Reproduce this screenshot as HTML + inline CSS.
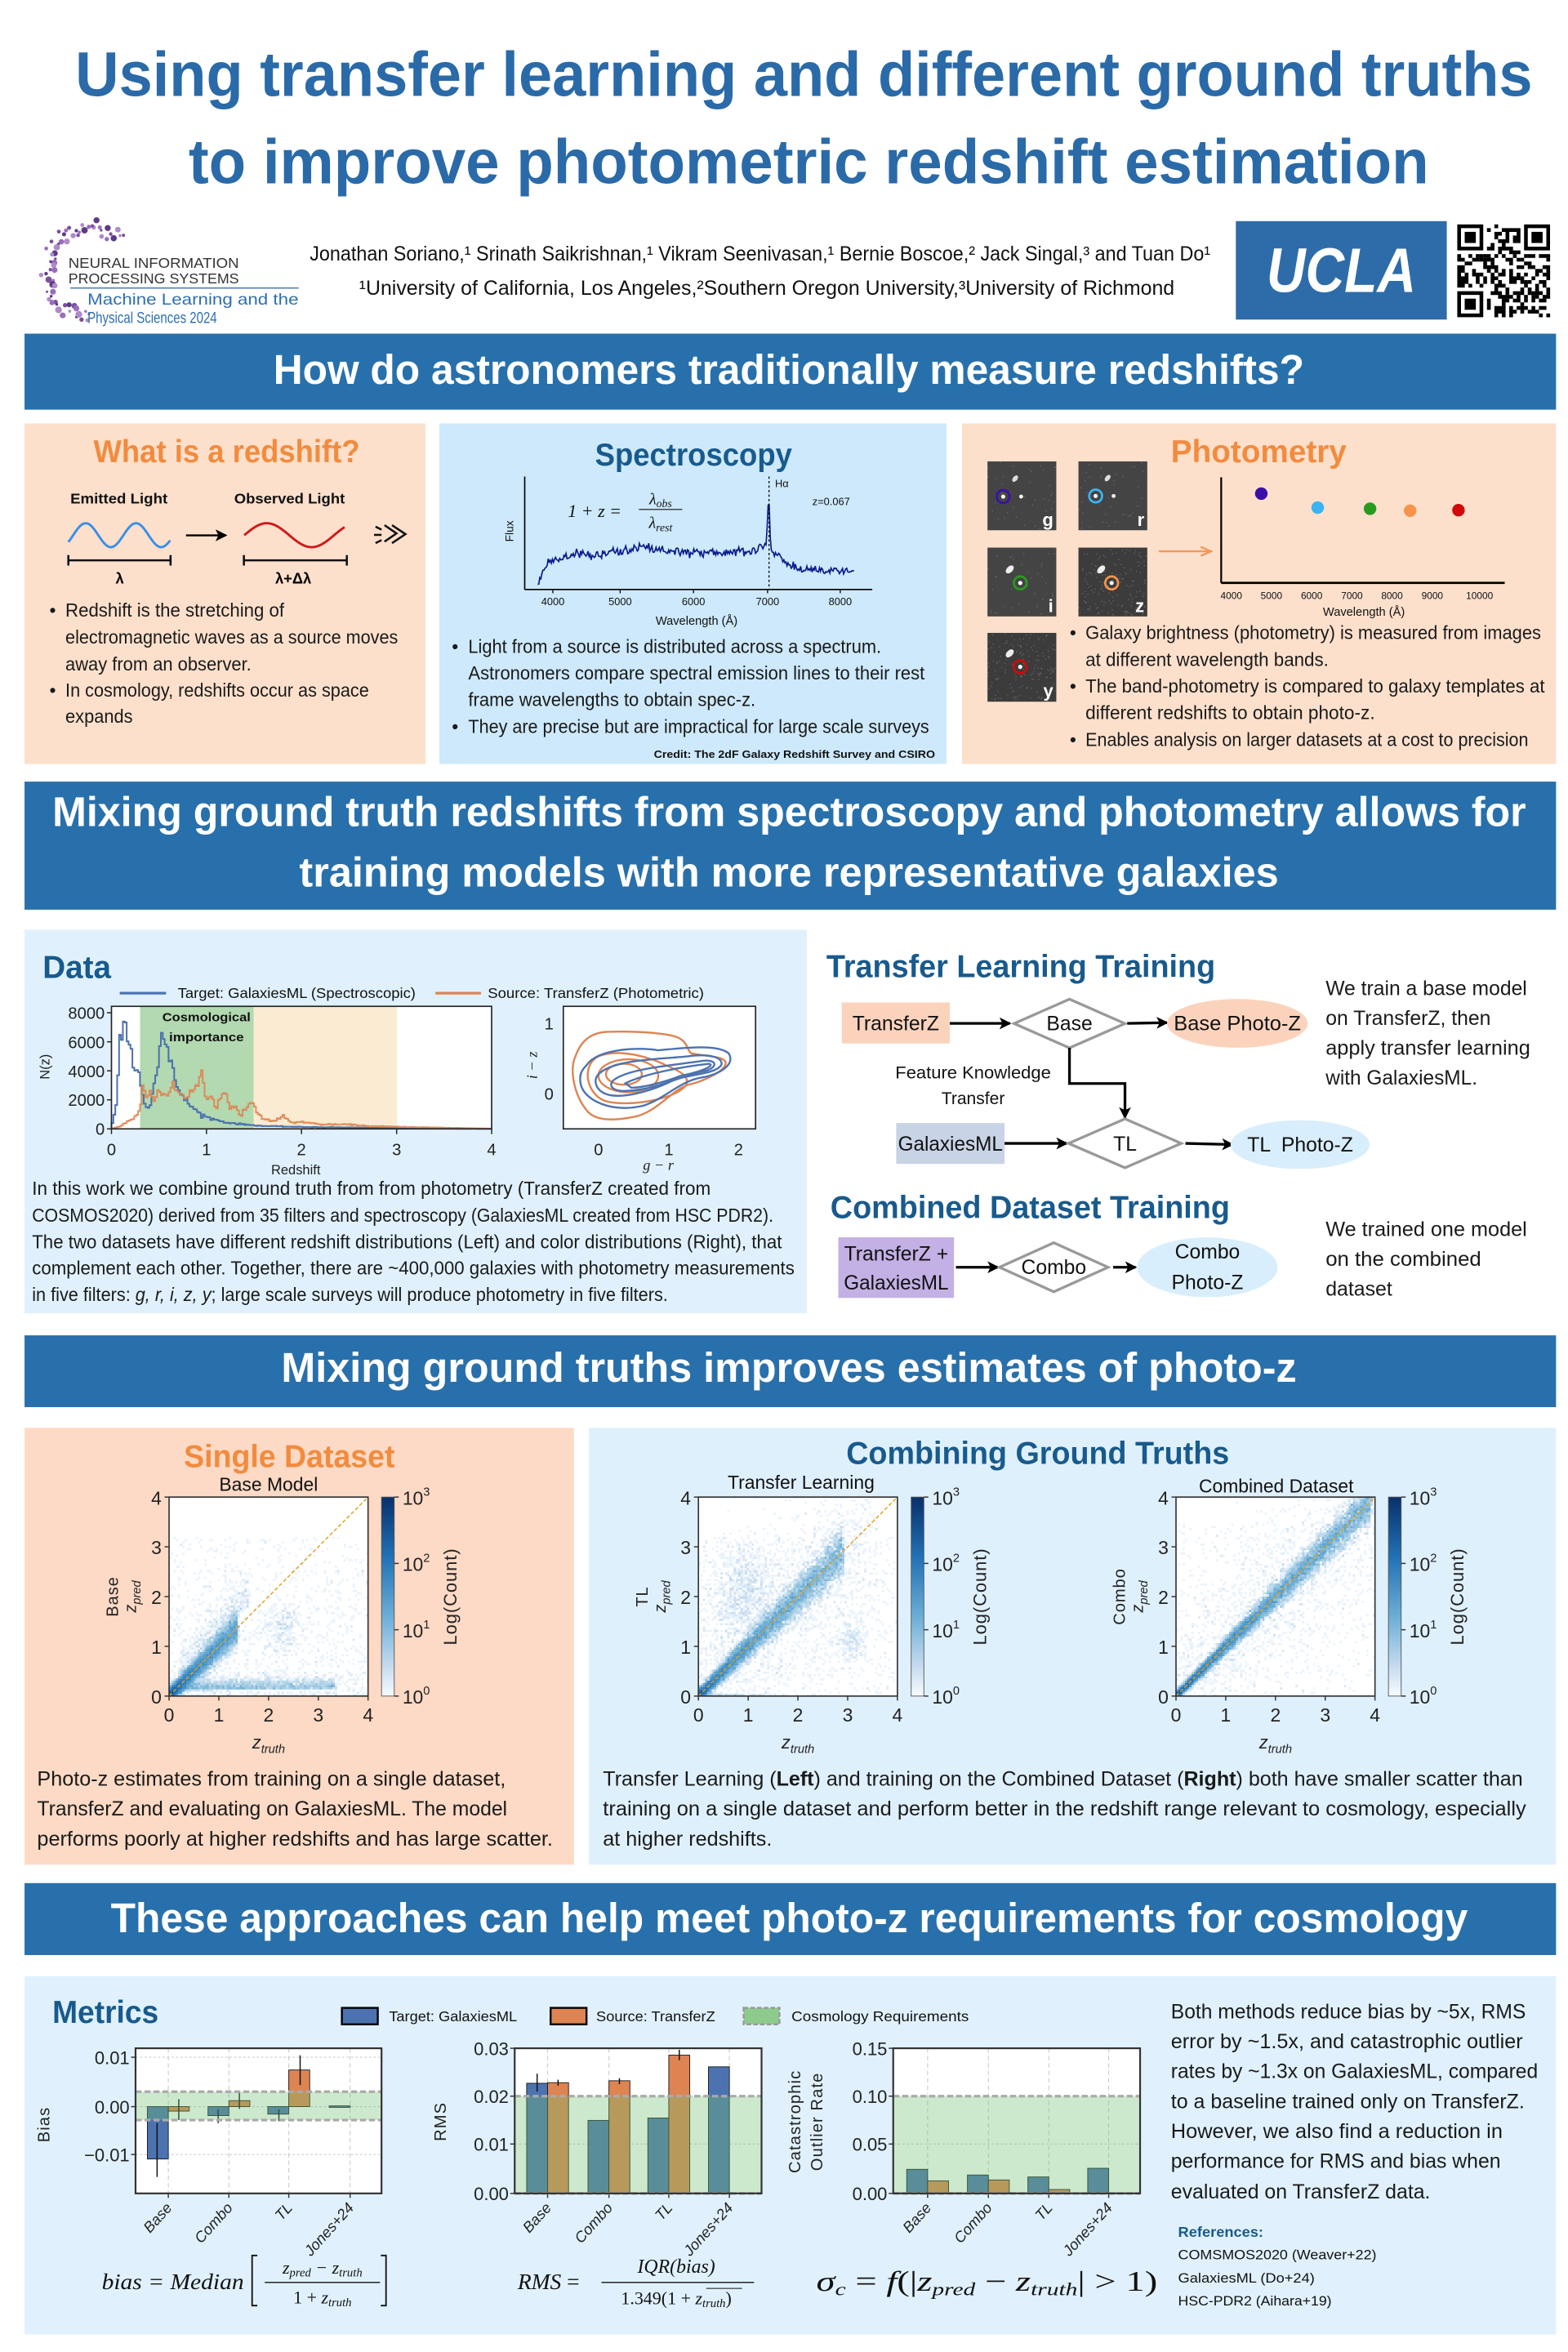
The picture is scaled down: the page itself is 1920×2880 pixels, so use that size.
<!DOCTYPE html>
<html><head><meta charset="utf-8">
<style>
html,body{margin:0;padding:0;background:#fff}
svg{display:block}
text{font-family:"Liberation Sans",sans-serif}
.b{font-weight:bold}
.ser{font-family:"Liberation Serif",serif;font-style:italic}
</style></head>
<body>
<svg id="s" xmlns="http://www.w3.org/2000/svg" width="1920" height="2880" viewBox="0 0 1048 1572">
<defs>
<marker id="ah" markerWidth="8" markerHeight="8" refX="7" refY="4" orient="auto" markerUnits="userSpaceOnUse"><path d="M0,0 L8,4 L0,8 L2,4 Z" fill="#000"/></marker>
<marker id="ao" markerWidth="8" markerHeight="8" refX="7" refY="4" orient="auto" markerUnits="userSpaceOnUse"><path d="M0,1 L7,4 L0,7" fill="none" stroke="#f39a5a" stroke-width="1.3"/></marker>
<linearGradient id="cb" x1="0" y1="0" x2="0" y2="1"><stop offset="0" stop-color="#08306b"/><stop offset="0.3" stop-color="#2171b5"/><stop offset="0.6" stop-color="#6baed6"/><stop offset="0.85" stop-color="#c6dbef"/><stop offset="1" stop-color="#f7fbff"/></linearGradient>
</defs>
<rect width="1048" height="1572" fill="#fff"/>

<text x="50.3" y="64" font-size="42" class="b" fill="#2a6aa8" textLength="974" lengthAdjust="spacingAndGlyphs">Using transfer learning and different ground truths</text>
<text x="126" y="122.6" font-size="42" class="b" fill="#2a6aa8" textLength="829" lengthAdjust="spacingAndGlyphs">to improve photometric redshift estimation</text>

<g id="neurips"></g>
<text x="45.7" y="179" font-size="9.5" fill="#333" textLength="114" lengthAdjust="spacingAndGlyphs">NEURAL INFORMATION</text>
<text x="45.7" y="189.5" font-size="9.5" fill="#333" textLength="114" lengthAdjust="spacingAndGlyphs">PROCESSING SYSTEMS</text>
<line x1="47" y1="192.5" x2="199.6" y2="192.5" stroke="#3b6fb0" stroke-width="0.8"/>
<text x="58.5" y="203.6" font-size="10.5" fill="#2d6fb3" textLength="141" lengthAdjust="spacingAndGlyphs">Machine Learning and the</text>
<text x="58.5" y="216" font-size="10.5" fill="#2d6fb3" textLength="86.5" lengthAdjust="spacingAndGlyphs">Physical Sciences 2024</text>
<text x="207" y="174" font-size="13.5" fill="#111" textLength="602" lengthAdjust="spacingAndGlyphs">Jonathan Soriano,¹ Srinath Saikrishnan,¹ Vikram Seenivasan,¹ Bernie Boscoe,² Jack Singal,³ and Tuan Do¹</text>
<text x="240" y="197" font-size="13.5" fill="#111" textLength="545" lengthAdjust="spacingAndGlyphs">¹University of California, Los Angeles,²Southern Oregon University,³University of Richmond</text>
<rect x="826" y="147.8" width="141" height="65.8" fill="#2d6ca9"/>
<text x="896.5" y="195" font-size="42" class="b" font-style="italic" fill="#fff" text-anchor="middle" textLength="100" lengthAdjust="spacingAndGlyphs">UCLA</text>
<g id="qr"></g>

<rect x="16.4" y="223" width="1023.6" height="50.8" fill="#2870ab"/>
<text x="182.7" y="256.5" font-size="28" class="b" fill="#fff" textLength="689" lengthAdjust="spacingAndGlyphs">How do astronomers traditionally measure redshifts?</text>

<rect x="16.4" y="283" width="268" height="227.6" fill="#fde0cc"/>
<text x="62.5" y="309" font-size="21" class="b" fill="#f28b3e" textLength="178" lengthAdjust="spacingAndGlyphs">What is a redshift?</text>
<text x="47" y="336.5" font-size="9.5" class="b" fill="#111" textLength="65" lengthAdjust="spacingAndGlyphs">Emitted Light</text>
<text x="156.5" y="336.5" font-size="9.5" class="b" fill="#111" textLength="74" lengthAdjust="spacingAndGlyphs">Observed Light</text>
<path id="bw" fill="none" stroke="#3a8fe8" stroke-width="1.6"/>
<path id="rw" fill="none" stroke="#d0191b" stroke-width="1.6"/>
<line x1="124.3" y1="357.8" x2="151" y2="357.8" stroke="#000" stroke-width="1.3" marker-end="url(#ah)"/>
<g stroke="#111" stroke-width="1.4" fill="none">
<path d="M257,351 L265,356.5 L257,362"/><path d="M262,351 L271,357 L262,363"/>
<line x1="251" y1="352" x2="255" y2="354"/><line x1="250" y1="357.5" x2="255" y2="357.5"/><line x1="251" y1="363" x2="255" y2="361"/>
<line x1="45.7" y1="374.5" x2="114" y2="374.5"/><line x1="45.7" y1="371" x2="45.7" y2="378"/><line x1="114" y1="371" x2="114" y2="378"/>
<line x1="163" y1="374.5" x2="231.8" y2="374.5"/><line x1="163" y1="371" x2="163" y2="378"/><line x1="231.8" y1="371" x2="231.8" y2="378"/>
</g>
<text x="80" y="390" font-size="10" class="b" text-anchor="middle">λ</text>
<text x="196" y="390" font-size="10" class="b" text-anchor="middle">λ+Δλ</text>
<g font-size="12.5" fill="#1a1a1a">
<text x="33" y="412">•</text><text x="43.7" y="412" textLength="146.3" lengthAdjust="spacingAndGlyphs">Redshift is the stretching of</text>
<text x="43.7" y="430" textLength="222.3" lengthAdjust="spacingAndGlyphs">electromagnetic waves as a source moves</text>
<text x="43.7" y="448" textLength="124.3" lengthAdjust="spacingAndGlyphs">away from an observer.</text>
<text x="33" y="465.5">•</text><text x="43.7" y="465.5" textLength="202.9" lengthAdjust="spacingAndGlyphs">In cosmology, redshifts occur as space</text>
<text x="43.7" y="483" textLength="45" lengthAdjust="spacingAndGlyphs">expands</text>
</g>

<rect x="293.7" y="283" width="338.9" height="227.6" fill="#cde9fb"/>
<text x="397.7" y="311" font-size="21" class="b" fill="#185a8d" textLength="131.7" lengthAdjust="spacingAndGlyphs">Spectroscopy</text>
<line x1="350.7" y1="318.5" x2="350.7" y2="394" stroke="#000" stroke-width="0.9"/>
<line x1="350.7" y1="394" x2="583" y2="394" stroke="#000" stroke-width="0.9"/>
<g stroke="#000" stroke-width="0.7"><line x1="369.5" y1="394" x2="369.5" y2="396.5"/><line x1="414.5" y1="394" x2="414.5" y2="396.5"/><line x1="463.5" y1="394" x2="463.5" y2="396.5"/><line x1="513" y1="394" x2="513" y2="396.5"/><line x1="561.6" y1="394" x2="561.6" y2="396.5"/></g>
<path id="spec" fill="none" stroke="#0a1a8a" stroke-width="0.9"/>
<line x1="514" y1="318.5" x2="514" y2="394" stroke="#000" stroke-width="0.7" stroke-dasharray="1.5 1.5"/>
<text x="518" y="325.5" font-size="7" fill="#111">Hα</text>
<text x="543" y="337.5" font-size="7" fill="#111">z=0.067</text>
<text transform="translate(343,355) rotate(-90)" font-size="7.5" text-anchor="middle" fill="#111">Flux</text>
<text x="379.5" y="345.5" font-size="12" class="ser" font-style="normal" fill="#111">1 + <tspan font-style="italic">z</tspan> =</text>
<text x="441.5" y="337" font-size="11" class="ser" fill="#111" text-anchor="middle">λ<tspan font-size="7.5" dy="2">obs</tspan></text>
<line x1="427" y1="340.5" x2="456" y2="340.5" stroke="#111" stroke-width="0.6"/>
<text x="441.5" y="353" font-size="11" class="ser" fill="#111" text-anchor="middle">λ<tspan font-size="7.5" dy="2">rest</tspan></text>
<g font-size="7" fill="#111" text-anchor="middle"><text x="369.5" y="404.5">4000</text><text x="414.5" y="404.5">5000</text><text x="463.5" y="404.5">6000</text><text x="513" y="404.5">7000</text><text x="561.6" y="404.5">8000</text></g>
<text x="465.6" y="417.5" font-size="8" fill="#111" text-anchor="middle">Wavelength (Å)</text>
<g font-size="12.5" fill="#1a1a1a">
<text x="302" y="436.3">•</text><text x="313" y="436.3" textLength="276" lengthAdjust="spacingAndGlyphs">Light from a source is distributed across a spectrum.</text>
<text x="313" y="454" textLength="305" lengthAdjust="spacingAndGlyphs">Astronomers compare spectral emission lines to their rest</text>
<text x="313" y="472" textLength="192" lengthAdjust="spacingAndGlyphs">frame wavelengths to obtain spec-z.</text>
<text x="302" y="490">•</text><text x="313" y="490" textLength="308" lengthAdjust="spacingAndGlyphs">They are precise but are impractical for large scale surveys</text>
</g>
<text x="437" y="506.5" font-size="7.2" class="b" fill="#111" textLength="188" lengthAdjust="spacingAndGlyphs">Credit: The 2dF Galaxy Redshift Survey and CSIRO</text>

<rect x="643" y="283" width="397" height="227.6" fill="#fde0cc"/>
<text x="782.6" y="309" font-size="21" class="b" fill="#f28b3e" textLength="117.4" lengthAdjust="spacingAndGlyphs">Photometry</text>
<g id="gal"></g>
<line x1="774.6" y1="368.5" x2="809.5" y2="368.5" stroke="#f39a5a" stroke-width="1.3" marker-end="url(#ao)"/>
<line x1="816.2" y1="319" x2="816.2" y2="389.6" stroke="#000" stroke-width="1.2"/>
<line x1="816.2" y1="389.6" x2="1005.7" y2="389.6" stroke="#000" stroke-width="1.5"/>
<circle cx="843" cy="329.9" r="4.2" fill="#3a10a8"/>
<circle cx="880.7" cy="339.3" r="4.2" fill="#3ab4f5"/>
<circle cx="915.7" cy="340" r="4.2" fill="#2a9a1e"/>
<circle cx="942.5" cy="341.3" r="4.2" fill="#f7944a"/>
<circle cx="974.8" cy="341" r="4.2" fill="#d00a0a"/>
<g font-size="6.5" fill="#111" text-anchor="middle"><text x="823" y="400.5">4000</text><text x="849.8" y="400.5">5000</text><text x="876.7" y="400.5">6000</text><text x="903.6" y="400.5">7000</text><text x="930.4" y="400.5">8000</text><text x="957.3" y="400.5">9000</text><text x="988.9" y="400.5">10000</text></g>
<text x="911.6" y="411.5" font-size="8" fill="#111" text-anchor="middle">Wavelength (Å)</text>
<g font-size="12.5" fill="#1a1a1a">
<text x="715" y="427">•</text><text x="725.5" y="427" textLength="304.5" lengthAdjust="spacingAndGlyphs">Galaxy brightness (photometry) is measured from images</text>
<text x="725.5" y="445" textLength="162.5" lengthAdjust="spacingAndGlyphs">at different wavelength bands.</text>
<text x="715" y="463">•</text><text x="725.5" y="463" textLength="307" lengthAdjust="spacingAndGlyphs">The band-photometry is compared to galaxy templates at</text>
<text x="725.5" y="480.6" textLength="193.5" lengthAdjust="spacingAndGlyphs">different redshifts to obtain photo-z.</text>
<text x="715" y="498.5">•</text><text x="725.5" y="498.5" textLength="296" lengthAdjust="spacingAndGlyphs">Enables analysis on larger datasets at a cost to precision</text>
</g>

<rect x="16.4" y="522.4" width="1023.6" height="85.6" fill="#2870ab"/>
<text x="35" y="552" font-size="28" class="b" fill="#fff" textLength="985" lengthAdjust="spacingAndGlyphs">Mixing ground truth redshifts from spectroscopy and photometry allows for</text>
<text x="200" y="592.5" font-size="28" class="b" fill="#fff" textLength="654.6" lengthAdjust="spacingAndGlyphs">training models with more representative galaxies</text>

<rect x="16.4" y="621.4" width="522.9" height="256.3" fill="#e0f1fd"/>
<text x="28.5" y="653.5" font-size="21" class="b" fill="#185a8d" textLength="45.7" lengthAdjust="spacingAndGlyphs">Data</text>
<line x1="80" y1="663.8" x2="111" y2="663.8" stroke="#4c72b0" stroke-width="1.8"/>
<text x="118.8" y="667" font-size="9.5" fill="#111" textLength="159" lengthAdjust="spacingAndGlyphs">Target: GalaxiesML (Spectroscopic)</text>
<line x1="291" y1="663.8" x2="321.5" y2="663.8" stroke="#dd8452" stroke-width="1.8"/>
<text x="326" y="667" font-size="9.5" fill="#111" textLength="144.5" lengthAdjust="spacingAndGlyphs">Source: TransferZ (Photometric)</text>
<rect x="74.5" y="672.6" width="254.1" height="81.9" fill="#fff"/>
<rect x="93.6" y="672.6" width="75.9" height="81.9" fill="#b2d9b0"/>
<rect x="169.5" y="672.6" width="95.8" height="81.9" fill="#faebd2"/>
<path id="hb" fill="none" stroke="#4c72b0" stroke-width="1.1"/>
<path id="ho" fill="none" stroke="#dd8452" stroke-width="1.1" opacity="0.9"/>
<rect x="74.5" y="672.6" width="254.1" height="81.9" fill="none" stroke="#222" stroke-width="0.9"/>
<text x="138" y="682.5" font-size="8" class="b" fill="#111" text-anchor="middle" textLength="59" lengthAdjust="spacingAndGlyphs">Cosmological</text>
<text x="138" y="696" font-size="8" class="b" fill="#111" text-anchor="middle" textLength="50" lengthAdjust="spacingAndGlyphs">importance</text>
<g font-size="11" fill="#222" text-anchor="end"><text x="70" y="681">8000</text><text x="70" y="700.5">6000</text><text x="70" y="720">4000</text><text x="70" y="739">2000</text><text x="70" y="758.5">0</text></g>
<g stroke="#222" stroke-width="0.8"><line x1="71.5" y1="676.9" x2="74.5" y2="676.9"/><line x1="71.5" y1="696.3" x2="74.5" y2="696.3"/><line x1="71.5" y1="715.7" x2="74.5" y2="715.7"/><line x1="71.5" y1="735.1" x2="74.5" y2="735.1"/><line x1="71.5" y1="754.5" x2="74.5" y2="754.5"/>
<line x1="74.5" y1="754.5" x2="74.5" y2="758"/><line x1="138" y1="754.5" x2="138" y2="758"/><line x1="201.5" y1="754.5" x2="201.5" y2="758"/><line x1="265.1" y1="754.5" x2="265.1" y2="758"/><line x1="328.6" y1="754.5" x2="328.6" y2="758"/></g>
<g font-size="11" fill="#222" text-anchor="middle"><text x="74.5" y="772">0</text><text x="138" y="772">1</text><text x="201.5" y="772">2</text><text x="265.1" y="772">3</text><text x="328.6" y="772">4</text></g>
<text x="197.7" y="785" font-size="9" fill="#222" text-anchor="middle">Redshift</text>
<text transform="translate(33,713) rotate(-90)" font-size="9" fill="#222" text-anchor="middle">N(z)</text>
<rect x="376.5" y="672.6" width="128.5" height="81.9" fill="#fff" stroke="#222" stroke-width="0.9"/>
<g fill="none" stroke-width="1.3">
<path stroke="#dd8452" d="M406,689.6 C430,689 446,691 452,693 C460,696 459,702 462,704 C472,706 486,706 485,711 C484,716 470,723 460,725 C450,728 440,742 426,746 C412,749 398,750 392,742 C384,732 380,715 385,705 C388,697 394,690 406,689.6 Z"/>
<path stroke="#dd8452" d="M400,706 C415,700 438,708 445,712 C455,716 462,720 458,726 C450,735 420,740 405,736 C392,732 388,712 400,706 Z"/>
<ellipse stroke="#dd8452" cx="420" cy="719" rx="20" ry="11"/>
<ellipse stroke="#dd8452" cx="417" cy="718" rx="12" ry="7"/>
<path stroke="#4c72b0" d="M392,712 C400,700 430,700 440,702 C460,700 480,698 487,704 C492,712 480,718 470,720 C455,722 445,734 430,739 C410,744 390,736 388,724 C387,718 389,715 392,712 Z"/>
<path stroke="#4c72b0" d="M400,718 C410,708 440,708 460,706 C475,704 484,707 482,712 C478,718 460,718 450,722 C438,728 420,734 408,732 C398,730 396,722 400,718Z"/>
<path stroke="#4c72b0" d="M410,722 C420,714 450,712 470,709 C480,708 480,714 470,716 C455,719 440,728 420,729 C410,730 406,726 410,722Z"/>
<path stroke="#4c72b0" d="M418,724 C430,718 455,713 474,711 C478,712 470,716 455,719 C445,723 430,727 422,727 Z"/>
</g>
<g font-size="11" fill="#222"><text x="370" y="688" text-anchor="end">1</text><text x="370" y="735" text-anchor="end">0</text>
<text x="400" y="772" text-anchor="middle">0</text><text x="447" y="772" text-anchor="middle">1</text><text x="493.6" y="772" text-anchor="middle">2</text></g>
<text x="440" y="782" font-size="10" class="ser" fill="#222" text-anchor="middle">g − r</text>
<text transform="translate(359,712) rotate(-90)" font-size="10" class="ser" fill="#222" text-anchor="middle">i − z</text>
<g font-size="12.5" fill="#1a1a1a">
<text x="21.4" y="798.5" textLength="453.6" lengthAdjust="spacingAndGlyphs">In this work we combine ground truth from from photometry (TransferZ created from</text>
<text x="21.4" y="816.5" textLength="495.5" lengthAdjust="spacingAndGlyphs">COSMOS2020) derived from 35 filters and spectroscopy (GalaxiesML created from HSC PDR2).</text>
<text x="21.4" y="834.3" textLength="501.2" lengthAdjust="spacingAndGlyphs">The two datasets have different redshift distributions (Left) and color distributions (Right), that</text>
<text x="21.4" y="851.8" textLength="509.6" lengthAdjust="spacingAndGlyphs">complement each other. Together, there are ~400,000 galaxies with photometry measurements</text>
<text x="21.4" y="869.5" textLength="425" lengthAdjust="spacingAndGlyphs">in five filters: <tspan font-style="italic">g, r, i, z, y</tspan>; large scale surveys will produce photometry in five filters.</text>
</g>

<text x="552.3" y="653" font-size="21" class="b" fill="#185a8d" textLength="260" lengthAdjust="spacingAndGlyphs">Transfer Learning Training</text>
<rect x="562.6" y="670" width="72.2" height="27.4" fill="#fbd3bc"/>
<text x="598.7" y="688.5" font-size="13.5" text-anchor="middle" fill="#111">TransferZ</text>
<line x1="634.8" y1="684" x2="675" y2="684" stroke="#000" stroke-width="1.8" marker-end="url(#ah)"/>
<polygon points="677.8,684.1 714.8,667.8 751.9,684.1 714.8,700.4" fill="#fff" stroke="#999" stroke-width="1.8"/>
<text x="714.8" y="688.5" font-size="13.5" text-anchor="middle" fill="#111">Base</text>
<line x1="753.4" y1="684" x2="780" y2="683.5" stroke="#000" stroke-width="1.8" marker-end="url(#ah)"/>
<ellipse cx="827" cy="684" rx="47" ry="16.3" fill="#fbd3bc"/>
<text x="827" y="688.5" font-size="13.5" text-anchor="middle" fill="#111" textLength="85" lengthAdjust="spacingAndGlyphs">Base Photo-Z</text>
<polyline points="714.8,700.4 714.8,724.2 751.9,724.2 751.9,747" fill="none" stroke="#000" stroke-width="1.8" marker-end="url(#ah)"/>
<text x="650.4" y="720.8" font-size="11.5" text-anchor="middle" fill="#111" textLength="104" lengthAdjust="spacingAndGlyphs">Feature Knowledge</text>
<text x="650.4" y="738" font-size="11.5" text-anchor="middle" fill="#111">Transfer</text>
<rect x="599" y="750.6" width="72.4" height="27.3" fill="#c8d3e6"/>
<text x="635.2" y="769" font-size="13.5" text-anchor="middle" fill="#111" textLength="70" lengthAdjust="spacingAndGlyphs">GalaxiesML</text>
<line x1="671.4" y1="764.2" x2="713" y2="764.2" stroke="#000" stroke-width="1.8" marker-end="url(#ah)"/>
<polygon points="714.2,764.2 751.9,747.8 789.5,764.2 751.9,780.5" fill="#fff" stroke="#999" stroke-width="1.8"/>
<text x="751.9" y="769" font-size="13.5" text-anchor="middle" fill="#111">TL</text>
<line x1="792.3" y1="764.2" x2="823.8" y2="765" stroke="#000" stroke-width="1.8" marker-end="url(#ah)"/>
<ellipse cx="869" cy="765" rx="46.5" ry="16.3" fill="#d9eefc"/>
<text x="869" y="769.5" font-size="13.5" text-anchor="middle" fill="#111" xml:space="preserve">TL  Photo-Z</text>
<g font-size="13.5" fill="#1a1a1a">
<text x="886" y="665" textLength="134.6" lengthAdjust="spacingAndGlyphs">We train a base model</text>
<text x="886" y="685" textLength="110.4" lengthAdjust="spacingAndGlyphs">on TransferZ, then</text>
<text x="886" y="705" textLength="136.8" lengthAdjust="spacingAndGlyphs">apply transfer learning</text>
<text x="886" y="725" textLength="101.4" lengthAdjust="spacingAndGlyphs">with GalaxiesML.</text>
<text x="886" y="826" textLength="134.6" lengthAdjust="spacingAndGlyphs">We trained one model</text>
<text x="886" y="846" textLength="104" lengthAdjust="spacingAndGlyphs">on the combined</text>
<text x="886" y="866" textLength="44.5" lengthAdjust="spacingAndGlyphs">dataset</text>
</g>
<text x="555" y="814" font-size="21" class="b" fill="#185a8d" textLength="267" lengthAdjust="spacingAndGlyphs">Combined Dataset Training</text>
<rect x="560.3" y="827" width="77.3" height="40.5" fill="#c3b0e4"/>
<text x="599" y="842.5" font-size="13.5" text-anchor="middle" fill="#111">TransferZ +</text>
<text x="599" y="862" font-size="13.5" text-anchor="middle" fill="#111" textLength="70" lengthAdjust="spacingAndGlyphs">GalaxiesML</text>
<line x1="638.9" y1="847" x2="667" y2="847" stroke="#000" stroke-width="1.8" marker-end="url(#ah)"/>
<polygon points="668,847 704.3,830.6 740.6,847 704.3,863.4" fill="#fff" stroke="#999" stroke-width="1.8"/>
<text x="704.3" y="851.5" font-size="13.5" text-anchor="middle" fill="#111">Combo</text>
<line x1="744" y1="847" x2="759" y2="847" stroke="#000" stroke-width="1.8" marker-end="url(#ah)"/>
<ellipse cx="807" cy="847" rx="47" ry="20" fill="#d9eefc"/>
<text x="807" y="841" font-size="13.5" text-anchor="middle" fill="#111">Combo</text>
<text x="807" y="861.5" font-size="13.5" text-anchor="middle" fill="#111">Photo-Z</text>

<rect x="16.4" y="892.5" width="1023.6" height="48" fill="#2870ab"/>
<text x="188" y="923.5" font-size="28" class="b" fill="#fff" textLength="678.6" lengthAdjust="spacingAndGlyphs">Mixing ground truths improves estimates of photo-z</text>

<rect x="16.4" y="954.3" width="367.2" height="292" fill="#fddac5"/>
<rect x="393.6" y="954.3" width="646.4" height="292" fill="#dff0fd"/>
<text x="122.9" y="980.5" font-size="21" class="b" fill="#f28b3e" textLength="141" lengthAdjust="spacingAndGlyphs">Single Dataset</text>
<text x="565.6" y="978.5" font-size="21" class="b" fill="#185a8d" textLength="256" lengthAdjust="spacingAndGlyphs">Combining Ground Truths</text>
<text x="179.5" y="996.5" font-size="12.5" text-anchor="middle" fill="#111">Base Model</text>
<text x="535.4" y="995" font-size="12.5" text-anchor="middle" fill="#111">Transfer Learning</text>
<text x="853" y="997.5" font-size="12.5" text-anchor="middle" fill="#111">Combined Dataset</text>
<g id="sc1"></g><g id="sc2"></g><g id="sc3"></g>
<g font-size="13.5" fill="#1a1a1a">
<text x="24.8" y="1193.5" textLength="313.2" lengthAdjust="spacingAndGlyphs">Photo-z estimates from training on a single dataset,</text>
<text x="24.8" y="1213.5" textLength="314.2" lengthAdjust="spacingAndGlyphs">TransferZ and evaluating on GalaxiesML. The model</text>
<text x="24.8" y="1233.5" textLength="344.7" lengthAdjust="spacingAndGlyphs">performs poorly at higher redshifts and has large scatter.</text>
<text x="403" y="1193.5" textLength="614.8" lengthAdjust="spacingAndGlyphs">Transfer Learning (<tspan class="b">Left</tspan>) and training on the Combined Dataset (<tspan class="b">Right</tspan>) both have smaller scatter than</text>
<text x="403" y="1213.5" textLength="617" lengthAdjust="spacingAndGlyphs">training on a single dataset and perform better in the redshift range relevant to cosmology, especially</text>
<text x="403" y="1233.5" textLength="113" lengthAdjust="spacingAndGlyphs">at higher redshifts.</text>
</g>

<rect x="16.4" y="1258.6" width="1023.6" height="48.1" fill="#2870ab"/>
<text x="74" y="1291.5" font-size="28" class="b" fill="#fff" textLength="907" lengthAdjust="spacingAndGlyphs">These approaches can help meet photo-z requirements for cosmology</text>

<rect x="16.4" y="1320.8" width="1023.6" height="239.5" fill="#e0f1fd"/>
<text x="35" y="1352" font-size="21" class="b" fill="#185a8d" textLength="71" lengthAdjust="spacingAndGlyphs">Metrics</text>
<rect x="228.5" y="1342" width="24" height="11" fill="#4c72b0" stroke="#000" stroke-width="1.3"/>
<text x="260" y="1351" font-size="9.5" fill="#111" textLength="85.6" lengthAdjust="spacingAndGlyphs">Target: GalaxiesML</text>
<rect x="368" y="1342" width="24" height="11" fill="#dd8452" stroke="#000" stroke-width="1.3"/>
<text x="398.5" y="1351" font-size="9.5" fill="#111" textLength="79.5" lengthAdjust="spacingAndGlyphs">Source: TransferZ</text>
<rect x="497" y="1342" width="24" height="11" fill="#8dcb8d" stroke="#999" stroke-width="1.3" stroke-dasharray="3 1.5"/>
<text x="529" y="1351" font-size="9.5" fill="#111" textLength="118.5" lengthAdjust="spacingAndGlyphs">Cosmology Requirements</text>
<g id="bars"></g>
<g fill="#111">
<text x="68" y="1530" font-size="15" class="ser" textLength="95" lengthAdjust="spacingAndGlyphs">bias = Median</text>
<path d="M172,1507.5 L168.5,1507.5 L168.5,1541 L172,1541 M254.5,1507.5 L258,1507.5 L258,1541 L254.5,1541" fill="none" stroke="#111" stroke-width="1"/>
<text x="215.5" y="1519.5" font-size="12" class="ser" text-anchor="middle">z<tspan font-size="8" dy="2">pred</tspan><tspan dy="-2"> − z</tspan><tspan font-size="8" dy="2">truth</tspan></text>
<line x1="177" y1="1525.5" x2="254" y2="1525.5" stroke="#111" stroke-width="0.8"/>
<text x="215.5" y="1539.5" font-size="12" class="ser" text-anchor="middle"><tspan font-style="normal">1 + </tspan>z<tspan font-size="8" dy="2">truth</tspan></text>
<text x="346" y="1530" font-size="15" class="ser">RMS <tspan font-style="normal">=</tspan></text>
<text x="452" y="1519" font-size="13" class="ser" text-anchor="middle">IQR(bias)</text>
<line x1="402" y1="1525.5" x2="504" y2="1525.5" stroke="#111" stroke-width="0.8"/>
<text x="452" y="1540" font-size="12" class="ser" text-anchor="middle"><tspan font-style="normal">1.349(1 + </tspan>z<tspan font-size="8" dy="2">truth</tspan><tspan dy="-2" font-style="normal">)</tspan></text>
<line x1="472" y1="1529.5" x2="496" y2="1529.5" stroke="#111" stroke-width="0.6"/>
<text x="545.6" y="1531" font-size="19" class="ser" textLength="228" lengthAdjust="spacingAndGlyphs">σ<tspan font-size="12" dy="3">c</tspan><tspan dy="-3" font-style="normal"> = </tspan>f<tspan font-style="normal">(|</tspan>z<tspan font-size="12" dy="3">pred</tspan><tspan dy="-3" font-style="normal"> − </tspan>z<tspan font-size="12" dy="3">truth</tspan><tspan dy="-3" font-style="normal">| &gt; 1)</tspan></text>
</g>
<g font-size="13.5" fill="#1a1a1a">
<text x="782.6" y="1349" textLength="237.2" lengthAdjust="spacingAndGlyphs">Both methods reduce bias by ~5x, RMS</text>
<text x="782.6" y="1369" textLength="235.2" lengthAdjust="spacingAndGlyphs">error by ~1.5x, and catastrophic outlier</text>
<text x="782.6" y="1389" textLength="245.3" lengthAdjust="spacingAndGlyphs">rates by ~1.3x on GalaxiesML, compared</text>
<text x="782.6" y="1409" textLength="236.4" lengthAdjust="spacingAndGlyphs">to a baseline trained only on TransferZ.</text>
<text x="782.6" y="1429" textLength="221.7" lengthAdjust="spacingAndGlyphs">However, we also find a reduction in</text>
<text x="782.6" y="1449" textLength="220.4" lengthAdjust="spacingAndGlyphs">performance for RMS and bias when</text>
<text x="782.6" y="1469.5" textLength="173.4" lengthAdjust="spacingAndGlyphs">evaluated on TransferZ data.</text>
</g>
<text x="787.4" y="1495" font-size="9.5" class="b" fill="#185a8d" textLength="57" lengthAdjust="spacingAndGlyphs">References:</text>
<g font-size="9" fill="#111">
<text x="787.4" y="1510" textLength="132.6" lengthAdjust="spacingAndGlyphs">COMSMOS2020 (Weaver+22)</text>
<text x="787.4" y="1525.5" textLength="91.3" lengthAdjust="spacingAndGlyphs">GalaxiesML (Do+24)</text>
<text x="787.4" y="1540.8" textLength="102.6" lengthAdjust="spacingAndGlyphs">HSC-PDR2 (Aihara+19)</text>
</g>
</svg>
<script>
(function(){
var NS="http://www.w3.org/2000/svg";
function el(tag,a,p){var e=document.createElementNS(NS,tag);for(var k in a)e.setAttribute(k,a[k]);p.appendChild(e);return e;}
function $(id){return document.getElementById(id);}
var seed=12345;function rnd(){seed=(seed*1103515245+12345)%2147483648;return seed/2147483648;}
function gauss(){var u=rnd()||1e-9,v=rnd();return Math.sqrt(-2*Math.log(u))*Math.cos(2*Math.PI*v);}
function interp(kp,x){for(var i=1;i<kp.length;i++){if(x<=kp[i][0]){var a=kp[i-1],b=kp[i];return a[1]+(b[1]-a[1])*(x-a[0])/(b[0]-a[0]);}}return kp[kp.length-1][1];}

var d="";for(var x=45.7;x<=114;x+=0.5){var y=357.7-8*Math.sin(2*Math.PI*(x-45.7)/33.6-0.6);d+=(d?"L":"M")+x.toFixed(1)+","+y.toFixed(2);}$("bw").setAttribute("d",d);
d="";for(x=163.3;x<=230.4;x+=0.5){y=357.7-8*Math.sin(2*Math.PI*(x-163.3)/60);d+=(d?"L":"M")+x.toFixed(1)+","+y.toFixed(2);}$("rw").setAttribute("d",d);

var sk=[[359.4,391],[362,383],[366,377],[380,371],[400,371],[416,368],[430,366],[460,369],[480,369],[505,368],[512,365],[513.5,338],[515,365],[520,372],[530,379],[545,381],[571,382]];
d="";for(x=359.4;x<=571;x+=0.7){var yy=interp(sk,x)+gauss()*1.6;if(Math.abs(x-513.6)<0.8)yy=337.6;d+=(d?"L":"M")+x.toFixed(1)+","+yy.toFixed(1);}$("spec").setAttribute("d",d);

var bk=[[0,0],[0.02,800],[0.06,1800],[0.08,6000],[0.12,6200],[0.14,8000],[0.16,6800],[0.2,6000],[0.24,3500],[0.27,4500],[0.3,4000],[0.33,2500],[0.38,1200],[0.42,2000],[0.47,4000],[0.5,5000],[0.53,6600],[0.56,6000],[0.6,5000],[0.65,3800],[0.7,2800],[0.8,1800],[0.9,1200],[1.0,800],[1.2,450],[1.4,300],[1.6,200],[2.0,130],[2.5,100],[3,40],[4,0]];
var ok=[[0,0],[0.1,200],[0.2,600],[0.3,1200],[0.33,3000],[0.36,2000],[0.45,2500],[0.6,2200],[0.65,3200],[0.7,2500],[0.8,2200],[0.9,3000],[0.95,3800],[1.0,2000],[1.05,2400],[1.1,1500],[1.2,2600],[1.25,1400],[1.3,1800],[1.35,1000],[1.45,1500],[1.5,1800],[1.55,1000],[1.6,700],[1.7,500],[1.8,900],[1.9,400],[2.0,500],[2.2,300],[2.5,300],[2.7,200],[3,150],[3.5,80],[4,20]];
function hist(kp,id){var d="";for(var z=0;z<4;z+=0.02){var v=Math.max(0,interp(kp,z+0.01)*(1+gauss()*0.07));var y=754.5-v*0.0097;var x0=74.5+z*63.525,x1=x0+0.02*63.525;d+=(d?"L":"M"+x0.toFixed(2)+",754.5L")+x0.toFixed(2)+","+y.toFixed(2)+"L"+x1.toFixed(2)+","+y.toFixed(2);}$(id).setAttribute("d",d);}
hist(bk,"hb");hist(ok,"ho");

var g=$("neurips");
for(var i=0;i<70;i++){var t=-1.1+i*0.062+gauss()*0.03;var r=22+rnd()*10;var cx=60+r*Math.cos(-t-1.9)*1.05,cy=182+r*Math.sin(-t-1.9)*1.1;
if(cx>62&&cy>168)continue;el("circle",{cx:cx.toFixed(1),cy:cy.toFixed(1),r:(0.8+rnd()*1.5).toFixed(2),fill:["#7b4fa0","#9a6cbc","#5c3a8a","#b08ac8"][i%4]},g);}

var q=$("qr");el("rect",{x:974,y:150,width:62.6,height:62,fill:"#fff"},q);var n=25,cs=62/n;
function fin(c,r){el("rect",{x:974+c*cs,y:150+r*cs,width:7*cs,height:7*cs,fill:"#000"},q);el("rect",{x:974+(c+1)*cs,y:150+(r+1)*cs,width:5*cs,height:5*cs,fill:"#fff"},q);el("rect",{x:974+(c+2)*cs,y:150+(r+2)*cs,width:3*cs,height:3*cs,fill:"#000"},q);}
for(var r2=0;r2<n;r2++)for(var c2=0;c2<n;c2++){if((r2<8&&c2<8)||(r2<8&&c2>16)||(r2>16&&c2<8))continue;if(rnd()<0.5)el("rect",{x:(974+c2*cs).toFixed(2),y:(150+r2*cs).toFixed(2),width:cs+0.05,height:cs+0.05,fill:"#000"},q);}
fin(0,0);fin(18,0);fin(0,18);

var gg=$("gal");
var ims=[[660,308.4,"g","#3a10a8",670.5,331.9],[720.8,308.4,"r","#3ab4f5",732.3,331.5],[660,366,"i","#2a9a1e",681.9,389.6],[720.8,366,"z","#f7944a",743,389.6],[660,423,"y","#d00a0a",681.9,445.7]];
ims.forEach(function(m,k){var w=46,h=46;el("rect",{x:m[0],y:m[1],width:w,height:h,fill:k>=3?"#3c3c3c":"#444"},gg);
 for(var j=0;j<(k>=3?160:40);j++){el("rect",{x:(m[0]+rnd()*(w-1)).toFixed(1),y:(m[1]+rnd()*(h-1)).toFixed(1),width:0.8,height:0.8,fill:"#777",opacity:0.6},gg);}
 if(k<2){el("circle",{cx:m[4]+12,cy:m[5],r:1.3,fill:"#fff"},gg);el("ellipse",{cx:m[4]+8,cy:m[5]-12,rx:1.5,ry:2.5,fill:"#ddd",transform:"rotate(40 "+(m[4]+8)+" "+(m[5]-12)+")"},gg);}
 else{el("ellipse",{cx:m[4]-7,cy:m[5]-9,rx:2,ry:3.2,fill:"#eee",transform:"rotate(45 "+(m[4]-7)+" "+(m[5]-9)+")"},gg);}
 el("circle",{cx:m[4],cy:m[5],r:1.4,fill:"#fff"},gg);
 el("circle",{cx:m[4],cy:m[5],r:4.3,fill:"none",stroke:m[3],"stroke-width":1.5},gg);
 el("text",{x:m[0]+w-2,y:m[1]+h-3,"font-size":12,"font-weight":"bold",fill:"#fff","text-anchor":"end"},gg).textContent=m[2];
});

function scatter(id,x0,y0,cbx,lab,gen){
 var g=$(id),S=133,NB=90,cnt={};
 el("rect",{x:x0,y:y0,width:S,height:S,fill:"#fff"},g);
 gen(function(zt,zp){if(zt<0||zt>=4||zp<0||zp>=4)return;var i=Math.floor(zt/4*NB),j=Math.floor(zp/4*NB),k=i+"_"+j;cnt[k]=(cnt[k]||0)+1;});
 var cols=[[235,243,251],[210,227,243],[175,210,231],[120,180,216],[70,148,200],[33,113,181],[8,81,156],[8,48,107]];
 var bw=S/NB;
 for(var k in cnt){var p=k.split("_"),t=Math.log(cnt[k])/Math.log(800);if(t>1)t=1;var ci=t*(cols.length-1),a=Math.floor(ci),f=ci-a,b=Math.min(a+1,cols.length-1);
  var c=[0,1,2].map(function(q){return Math.round(cols[a][q]+(cols[b][q]-cols[a][q])*f);});
  el("rect",{x:(x0+p[0]*bw).toFixed(2),y:(y0+S-(+p[1]+1)*bw).toFixed(2),width:(bw+0.05).toFixed(2),height:(bw+0.05).toFixed(2),fill:"rgb("+c.join(",")+")"},g);}
 el("line",{x1:x0,y1:y0+S,x2:x0+S,y2:y0,stroke:"#e0a020","stroke-width":0.8,"stroke-dasharray":"2.5 1.5"},g);
 el("rect",{x:x0,y:y0,width:S,height:S,fill:"none",stroke:"#333","stroke-width":0.9},g);
 for(var i=0;i<=4;i++){var tx=x0+i*S/4,ty=y0+S-i*S/4;
  el("line",{x1:tx,y1:y0+S,x2:tx,y2:y0+S+3,stroke:"#333","stroke-width":0.8},g);
  el("line",{x1:x0-3,y1:ty,x2:x0,y2:ty,stroke:"#333","stroke-width":0.8},g);
  el("text",{x:tx,y:y0+S+17,"font-size":12.5,"text-anchor":"middle",fill:"#222"},g).textContent=i;
  el("text",{x:x0-5,y:ty+5,"font-size":12.5,"text-anchor":"end",fill:"#222"},g).textContent=i;}
 var zt=el("text",{x:x0+S/2,y:y0+S+35,"font-size":12,"text-anchor":"middle",fill:"#222","font-style":"italic"},g);zt.textContent="z";var ts=el("tspan",{"font-size":8,dy:3},zt);ts.textContent="truth";
 el("text",{transform:"translate("+(x0-34)+","+(y0+S/2)+") rotate(-90)","font-size":11,"text-anchor":"middle",fill:"#222","letter-spacing":"0.5"},g).textContent=lab;
 var zp=el("text",{transform:"translate("+(x0-22)+","+(y0+S/2)+") rotate(-90)","font-size":11,"text-anchor":"middle",fill:"#222","font-style":"italic"},g);zp.textContent="z";var t2=el("tspan",{"font-size":8,dy:3},zp);t2.textContent="pred";
 el("rect",{x:cbx,y:y0,width:8.5,height:S,fill:"url(#cb)",stroke:"#555","stroke-width":0.5},g);
 var lbl=["3","2","1","0"];for(i=0;i<4;i++){var yy=y0+i*S/3;var tt=el("text",{x:cbx+14,y:yy+5,"font-size":12.5,fill:"#222"},g);tt.textContent="10";var s2=el("tspan",{"font-size":8,dy:-6},tt);s2.textContent=lbl[i];
  el("line",{x1:cbx+8.5,y1:yy,x2:cbx+11.5,y2:yy,stroke:"#333","stroke-width":0.8},g);}
 el("text",{transform:"translate("+(cbx+50)+","+(y0+S/2)+") rotate(-90)","font-size":12,"text-anchor":"middle",fill:"#222","letter-spacing":"0.5"},g).textContent="Log(Count)";
}
scatter("sc1",113,1000.6,255,"Base",function(add){var i,zt;
 for(i=0;i<14000;i++){zt=0.03+Math.pow(rnd(),1.6)*1.35;add(zt,zt+gauss()*0.07*(1+zt));}
 for(i=0;i<2500;i++){zt=0.15+Math.pow(rnd(),1.1)*3.2;add(zt,0.12+Math.abs(gauss())*0.1+0.01*zt);}
 for(i=0;i<1200;i++){add(rnd()*4,Math.pow(rnd(),1.8)*3.2);}
 for(i=0;i<250;i++){add(2.3+gauss()*0.2,1.35+gauss()*0.25);}
 for(i=0;i<600;i++){zt=0.2+rnd()*1.4;add(zt,zt*1.15+Math.abs(gauss())*0.35);}
});
scatter("sc2",466.8,1000.6,609,"TL",function(add){var i,zt;
 for(i=0;i<18000;i++){zt=0.02+Math.pow(rnd(),1.5)*2.9;add(zt,zt+gauss()*0.06*(1+zt));}
 for(i=0;i<900;i++){add(0.9+gauss()*0.3,2.1+gauss()*0.5);}
 for(i=0;i<1500;i++){zt=rnd()*3.6;add(zt,Math.max(0,zt+gauss()*1.0));}
 for(i=0;i<700;i++){add(rnd()*4,rnd()*3.2);}
 for(i=0;i<200;i++){add(3.1+gauss()*0.15,1.1+gauss()*0.2);}
});
scatter("sc3",786,1000.6,928,"Combo",function(add){var i,zt;
 for(i=0;i<22000;i++){zt=0.02+Math.pow(rnd(),1.35)*3.9;add(zt,zt+gauss()*0.04*(1+zt));}
 for(i=0;i<1500;i++){zt=rnd()*4;add(zt,zt+gauss()*0.8);}
 for(i=0;i<600;i++){add(rnd()*4,rnd()*3.5);}
});

var B=$("bars");
function axes(x0,y0,w,h,yt,cats){
 el("rect",{x:x0,y:y0,width:w,height:h,fill:"#fff"},B);
 yt.forEach(function(t){el("line",{x1:x0,y1:t[0],x2:x0+w,y2:t[0],stroke:"#ccc","stroke-width":0.6,"stroke-dasharray":"1.5 1.5"},B);
  el("line",{x1:x0-3,y1:t[0],x2:x0,y2:t[0],stroke:"#333","stroke-width":0.8},B);
  el("text",{x:x0-4,y:t[0]+4.5,"font-size":12,"text-anchor":"end",fill:"#222"},B).textContent=t[1];});
 cats.forEach(function(c){el("line",{x1:c[0],y1:y0,x2:c[0],y2:y0+h,stroke:"#ccc","stroke-width":0.6,"stroke-dasharray":"3 2"},B);
  el("line",{x1:c[0],y1:y0+h,x2:c[0],y2:y0+h+3,stroke:"#333","stroke-width":0.8},B);
  el("text",{x:c[0]+3,y:y0+h+10,"font-size":10,"text-anchor":"end",fill:"#222","font-style":"italic",transform:"rotate(-48 "+(c[0]+3)+" "+(y0+h+10)+")"},B).textContent=c[1];});
}
function bar(x,y1,y2,col){el("rect",{x:x,y:Math.min(y1,y2),width:14,height:Math.max(0.8,Math.abs(y2-y1)),fill:col,stroke:"#1a1a1a","stroke-width":0.5},B);}
function eb(x,a,b){el("line",{x1:x,y1:a,x2:x,y2:b,stroke:"#111","stroke-width":0.8},B);}
function band(x0,w,a,b){el("rect",{x:x0,y:a,width:w,height:b-a,fill:"#6fbf6f",opacity:0.35},B);
 el("line",{x1:x0,y1:a,x2:x0+w,y2:a,stroke:"#aaa","stroke-width":1.8,"stroke-dasharray":"4 2"},B);
 el("line",{x1:x0,y1:b,x2:x0+w,y2:b,stroke:"#aaa","stroke-width":1.8,"stroke-dasharray":"4 2"},B);}
function frame(x0,y0,w,h){el("rect",{x:x0,y:y0,width:w,height:h,fill:"none",stroke:"#333","stroke-width":1.2},B);}
var BL="#4c72b0",OR="#dd8452";
var cb=["Base","Combo","TL","Jones+24"];
axes(90.6,1369,164.4,97,[[1375,"0.01"],[1408,"0.00"],[1440,"−0.01"]],[[112.5,cb[0]],[153,cb[1]],[193,cb[2]],[234,cb[3]]]);
bar(98.5,1408,1443,BL);bar(112.5,1408,1411,OR);bar(139,1408,1414,BL);bar(153,1404,1408,OR);bar(179,1408,1413,BL);bar(193,1383.5,1408,OR);bar(220,1407.5,1408.5,BL);
eb(105,1419,1455);eb(119.5,1403,1417);eb(145.8,1410,1419);eb(160,1398,1409.5);eb(186.4,1410,1417.6);eb(200.6,1373.7,1393.6);
band(90.6,164.4,1398,1417);frame(90.6,1369,164.4,97);
el("text",{transform:"translate(33,1420) rotate(-90)","font-size":11,"text-anchor":"middle",fill:"#222","letter-spacing":"0.6"},B).textContent="Bias";
axes(344,1369,165,97,[[1369,"0.03"],[1401,"0.02"],[1433,"0.01"],[1466,"0.00"]],[[366,cb[0]],[407,cb[1]],[447,cb[2]],[487.5,cb[3]]]);
bar(352,1466,1392.4,BL);bar(366,1466,1392,OR);bar(393,1466,1417.2,BL);bar(407,1466,1390.7,OR);bar(433,1466,1415.6,BL);bar(447,1466,1373.6,OR);bar(473.5,1466,1381.4,BL);
eb(359,1386,1398);eb(373,1390,1394);eb(414,1389,1393);eb(454,1370,1377);
band(344,165,1401,1466);frame(344,1369,165,97);
el("text",{transform:"translate(298,1418) rotate(-90)","font-size":11,"text-anchor":"middle",fill:"#222","letter-spacing":"0.6"},B).textContent="RMS";
axes(597,1369,165,97,[[1369,"0.15"],[1401,"0.10"],[1433,"0.05"],[1466,"0.00"]],[[620,cb[0]],[660.6,cb[1]],[701,cb[2]],[741,cb[3]]]);
bar(606,1466,1449.9,BL);bar(620,1466,1457.6,OR);bar(646.6,1466,1453.7,BL);bar(660.6,1466,1457,OR);bar(687,1466,1455,BL);bar(701,1466,1463.4,OR);bar(727,1466,1449.2,BL);
band(597,165,1401,1466);frame(597,1369,165,97);
el("text",{transform:"translate(535,1418) rotate(-90)","font-size":11,"text-anchor":"middle",fill:"#222","letter-spacing":"0.6"},B).textContent="Catastrophic";
el("text",{transform:"translate(549.6,1418) rotate(-90)","font-size":11,"text-anchor":"middle",fill:"#222","letter-spacing":"0.6"},B).textContent="Outlier Rate";
})();
</script>
</body></html>
